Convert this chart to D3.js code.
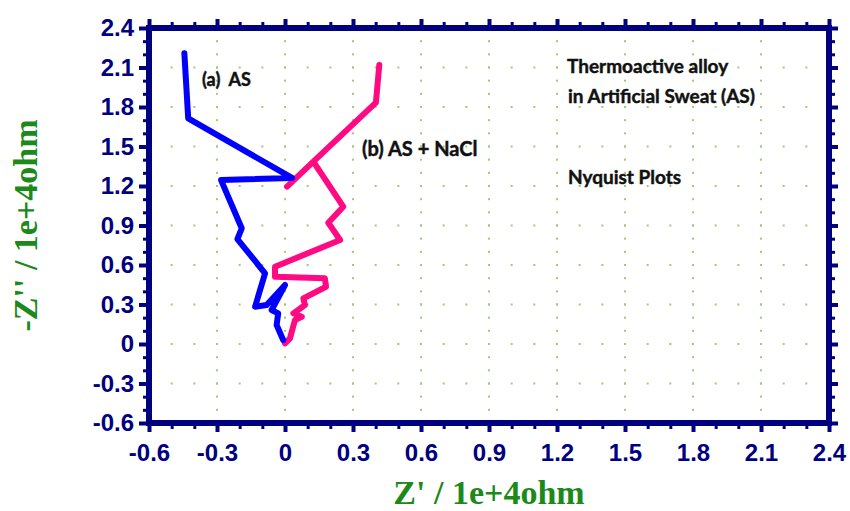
<!DOCTYPE html>
<html>
<head>
<meta charset="utf-8">
<script src="https://cdn.jsdelivr.net/npm/d3@7"></script>
<style>
  html, body { margin: 0; padding: 0; background: #ffffff; }
  svg { display: block; }
</style>
</head>
<body>
<svg id="chart" width="850" height="511"></svg>
<script>
// Nyquist data, Z' and -Z'' in units of 1e+4 ohm
const asZre  = [-0.444, -0.427, 0.031, -0.282, -0.191, -0.210, -0.088, -0.132, -0.081, 0.000, -0.059, -0.030, -0.037, -0.008];
const asZim  = [ 2.208,  1.714, 1.261,  1.245,  0.879,  0.797,  0.537,  0.283,  0.296, 0.448,  0.258,  0.233,  0.144,  0.030];

const naclZre = [0.416, 0.401, 0.125, 0.009, 0.125, 0.257, 0.191, 0.243, -0.044, -0.044, 0.176, 0.181, 0.081, 0.088, 0.037, 0.074, 0.044, 0.022, 0.000];
const naclZim = [2.119, 1.833, 1.385, 1.195, 1.385, 1.043, 0.921, 0.790,  0.587,  0.511, 0.499, 0.435, 0.347, 0.296, 0.233, 0.207, 0.182, 0.043, 0.005];

const majorTicks = [-0.6, -0.3, 0, 0.3, 0.6, 0.9, 1.2, 1.5, 1.8, 2.1, 2.4];
const tickLabels = ["-0.6", "-0.3", "0", "0.3", "0.6", "0.9", "1.2", "1.5", "1.8", "2.1", "2.4"];
const minorTicks = d3.range(-6, 25).map(i => +(i / 10).toFixed(1)).filter(v => !majorTicks.includes(v));
const gridSteps  = d3.range(-6, 25).map(i => +(i / 10).toFixed(1));

const navy = "#000080";
const green = "#1b8a1b";

const svg = d3.select("#chart");
const x = d3.scaleLinear().domain([-0.6, 2.4]).range([149, 829]);
const y = d3.scaleLinear().domain([-0.6, 2.4]).range([423, 28]);

// dotted grid: dots every 0.1 unit along each major gridline
const grid = svg.append("g");
majorTicks.slice(1, -1).forEach(v => {
  gridSteps.forEach(s => {
    grid.append("rect").attr("x", x(v) - 1).attr("y", y(s) - 1)
      .attr("width", 2).attr("height", 2).attr("fill", "#a6c67c");
    grid.append("rect").attr("x", x(s) - 1).attr("y", y(v) - 1)
      .attr("width", 2).attr("height", 2).attr("fill", "#a6c67c");
  });
});

// series
const line = d3.line().x(d => x(d[0])).y(d => y(d[1]));
const asPts = asZre.map((v, i) => [v, asZim[i]]);
const naclPts = naclZre.map((v, i) => [v, naclZim[i]]);

svg.append("path").datum(naclPts).attr("d", line)
  .attr("fill", "none").attr("stroke", "#ff0a82").attr("stroke-width", 6)
  .attr("stroke-linejoin", "round").attr("stroke-linecap", "round");
svg.append("path").datum(asPts).attr("d", line)
  .attr("fill", "none").attr("stroke", "#0000ff").attr("stroke-width", 6)
  .attr("stroke-linejoin", "round").attr("stroke-linecap", "round");

// axes with major + minor ticks on all four sides
function styleAxis(g, w) {
  g.select(".domain").remove();
  g.selectAll(".tick line").attr("stroke", navy).attr("stroke-width", w);
}
const fmt = d => tickLabels[majorTicks.indexOf(d)];

const bottom = svg.append("g").attr("transform", `translate(0,${y(-0.6)})`)
  .call(d3.axisBottom(x).tickValues(majorTicks).tickFormat(fmt).tickSize(9).tickPadding(12));
styleAxis(bottom, 4);
svg.append("g").attr("transform", `translate(0,${y(-0.6)})`)
  .call(d3.axisBottom(x).tickValues(minorTicks).tickFormat("").tickSize(6))
  .call(g => styleAxis(g, 3));

const left = svg.append("g").attr("transform", `translate(${x(-0.6)},0)`)
  .call(d3.axisLeft(y).tickValues(majorTicks).tickFormat(fmt).tickSize(10).tickPadding(5));
styleAxis(left, 4);
svg.append("g").attr("transform", `translate(${x(-0.6)},0)`)
  .call(d3.axisLeft(y).tickValues(minorTicks).tickFormat("").tickSize(6))
  .call(g => styleAxis(g, 3));

svg.append("g").attr("transform", `translate(0,${y(2.4)})`)
  .call(d3.axisTop(x).tickValues(majorTicks).tickFormat("").tickSize(9))
  .call(g => styleAxis(g, 4));
svg.append("g").attr("transform", `translate(0,${y(2.4)})`)
  .call(d3.axisTop(x).tickValues(minorTicks).tickFormat("").tickSize(6))
  .call(g => styleAxis(g, 3));
svg.append("g").attr("transform", `translate(${x(2.4)},0)`)
  .call(d3.axisRight(y).tickValues(majorTicks).tickFormat("").tickSize(9))
  .call(g => styleAxis(g, 4));
svg.append("g").attr("transform", `translate(${x(2.4)},0)`)
  .call(d3.axisRight(y).tickValues(minorTicks).tickFormat("").tickSize(6))
  .call(g => styleAxis(g, 3));

svg.selectAll(".tick text")
  .attr("fill", navy)
  .style("font-family", "'Liberation Sans', Arial, sans-serif")
  .style("font-weight", "bold")
  .style("font-size", "24px");

// plot frame
svg.append("rect")
  .attr("x", x(-0.6)).attr("y", y(2.4))
  .attr("width", x(2.4) - x(-0.6)).attr("height", y(-0.6) - y(2.4))
  .attr("fill", "none").attr("stroke", navy).attr("stroke-width", 6);

// axis titles
svg.append("text")
  .attr("x", (x(-0.6) + x(2.4)) / 2).attr("y", 504)
  .attr("text-anchor", "middle")
  .attr("fill", green)
  .style("font-family", "'Liberation Serif', 'Times New Roman', serif")
  .style("font-weight", "bold").style("font-size", "34px")
  .text("Z' / 1e+4ohm");

svg.append("text")
  .attr("transform", `translate(37,${(y(-0.6) + y(2.4)) / 2}) rotate(-90)`)
  .attr("text-anchor", "middle")
  .attr("fill", green)
  .style("font-family", "'Liberation Serif', 'Times New Roman', serif")
  .style("font-weight", "bold").style("font-size", "34px")
  .text("-Z'' / 1e+4ohm");

// annotations
const notes = [
  { t: "(a)\u00a0\u00a0AS", x: 202, y: 86, s: 18 },
  { t: "(b) AS + NaCl", x: 362, y: 156, s: 20 },
  { t: "Thermoactive alloy", x: 567, y: 73, s: 19 },
  { t: "in Artificial Sweat (AS)", x: 568, y: 103, s: 19 },
  { t: "Nyquist Plots", x: 568, y: 184, s: 19 }
];
svg.append("g").selectAll("text").data(notes).join("text")
  .attr("x", d => d.x).attr("y", d => d.y)
  .attr("fill", "#111").attr("stroke", "#111").attr("stroke-width", 0.45)
  .style("font-family", "Lato, 'Open Sans', sans-serif")
  .style("font-weight", "bold")
  .style("font-size", d => d.s + "px")
  .text(d => d.t);
</script>
</body>
</html>
